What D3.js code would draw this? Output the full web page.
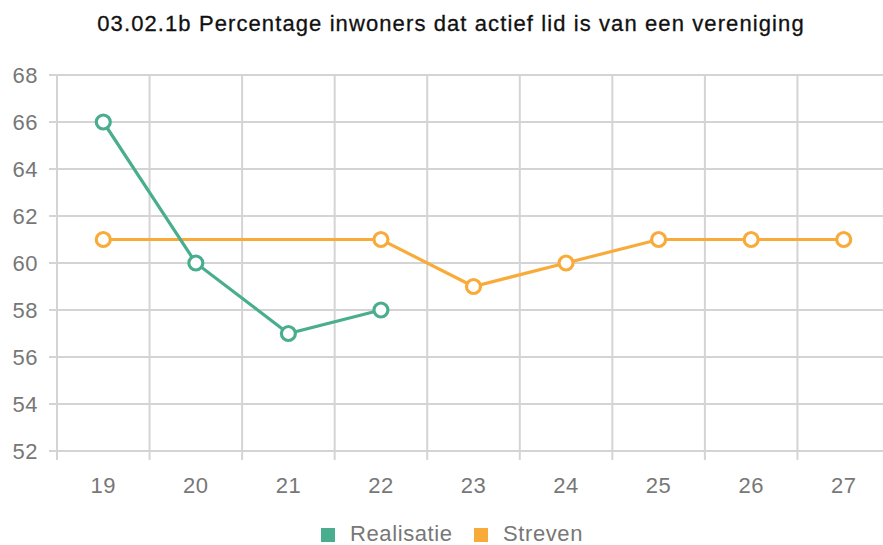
<!DOCTYPE html>
<html>
<head>
<meta charset="utf-8">
<script src="https://cdn.jsdelivr.net/npm/d3@7"></script>
<style>
  body { margin: 0; background: #fff; }
  text { font-family: "Liberation Sans", Arial, sans-serif; }
</style>
</head>
<body>
<div class="chart"></div>
<script>
// chart data
var years = ["19", "20", "21", "22", "23", "24", "25", "26", "27"];
var realisatie = [66, 60, 57, 58, null, null, null, null, null];
var streven = [61, null, null, 61, 59, 60, 61, 61, 61];
var yTicks = [52, 54, 56, 58, 60, 62, 64, 66, 68];

var w = 883, h = 545;
var pLeft = 57, pRight = 890, pTop = 75, pBottom = 451;

var svg = d3.select(".chart")
  .append("svg")
  .attr("width", w)
  .attr("height", h);

var x = d3.scaleBand().domain(years).range([pLeft, pRight]);
var y = d3.scaleLinear().domain([52, 68]).range([pBottom, pTop]);

// title
svg.append("text")
  .attr("x", 451)
  .attr("y", 31)
  .attr("text-anchor", "middle")
  .attr("font-size", 22)
  .attr("letter-spacing", 1.1)
  .attr("fill", "#111")
  .attr("stroke", "#111")
  .attr("stroke-width", 0.3)
  .text("03.02.1b Percentage inwoners dat actief lid is van een vereniging");

// horizontal grid lines
svg.selectAll(".hgrid")
  .data(yTicks)
  .enter()
  .append("line")
  .attr("class", "hgrid")
  .attr("x1", pLeft - 8)
  .attr("x2", w)
  .attr("y1", function(d) { return y(d); })
  .attr("y2", function(d) { return y(d); })
  .attr("stroke", "#d4d4d4")
  .attr("stroke-width", 2);

// y labels
svg.selectAll(".ylab")
  .data(yTicks)
  .enter()
  .append("text")
  .attr("class", "ylab")
  .attr("x", 38)
  .attr("y", function(d) { return y(d) + 8; })
  .attr("text-anchor", "end")
  .attr("font-size", 22)
  .attr("letter-spacing", 0.5)
  .attr("fill", "#777")
  .text(function(d) { return d; });

// vertical grid lines at band edges
var edges = years.map(function(d) { return x(d); }).concat([x(years[years.length - 1]) + x.bandwidth()]);
svg.selectAll(".vgrid")
  .data(edges)
  .enter()
  .append("line")
  .attr("class", "vgrid")
  .attr("x1", function(d) { return d; })
  .attr("x2", function(d) { return d; })
  .attr("y1", pTop)
  .attr("y2", pBottom + 9)
  .attr("stroke", "#d4d4d4")
  .attr("stroke-width", 2);

// x labels
svg.selectAll(".xlab")
  .data(years)
  .enter()
  .append("text")
  .attr("class", "xlab")
  .attr("x", function(d) { return x(d) + x.bandwidth() / 2; })
  .attr("y", 493)
  .attr("text-anchor", "middle")
  .attr("font-size", 22)
  .attr("letter-spacing", 0.5)
  .attr("fill", "#777")
  .text(function(d) { return d; });

function drawSeries(vals, color) {
  var pts = years.map(function(d, i) { return { k: d, v: vals[i] }; })
    .filter(function(p) { return p.v != null; });
  var line = d3.line()
    .x(function(p) { return x(p.k) + x.bandwidth() / 2; })
    .y(function(p) { return y(p.v); });
  svg.append("path")
    .datum(pts)
    .attr("d", line)
    .attr("fill", "none")
    .attr("stroke", color)
    .attr("stroke-width", 3.2);
  svg.selectAll(null)
    .data(pts)
    .enter()
    .append("circle")
    .attr("cx", function(p) { return x(p.k) + x.bandwidth() / 2; })
    .attr("cy", function(p) { return y(p.v); })
    .attr("r", 7)
    .attr("fill", "#fff")
    .attr("stroke", color)
    .attr("stroke-width", 3.2);
}

drawSeries(streven, "#f9ab3a");
drawSeries(realisatie, "#4aae8e");

// legend
var legend = [
  { name: "Realisatie", color: "#4aae8e", x: 321 },
  { name: "Streven", color: "#f9ab3a", x: 474 }
];
var lg = svg.selectAll(".leg").data(legend).enter().append("g").attr("class", "leg");
lg.append("rect")
  .attr("x", function(d) { return d.x; })
  .attr("y", 528)
  .attr("width", 14)
  .attr("height", 14)
  .attr("fill", function(d) { return d.color; });
lg.append("text")
  .attr("x", function(d) { return d.x + 29; })
  .attr("y", 541)
  .attr("font-size", 22)
  .attr("letter-spacing", 0.6)
  .attr("fill", "#777")
  .text(function(d) { return d.name; });
</script>
</body>
</html>
